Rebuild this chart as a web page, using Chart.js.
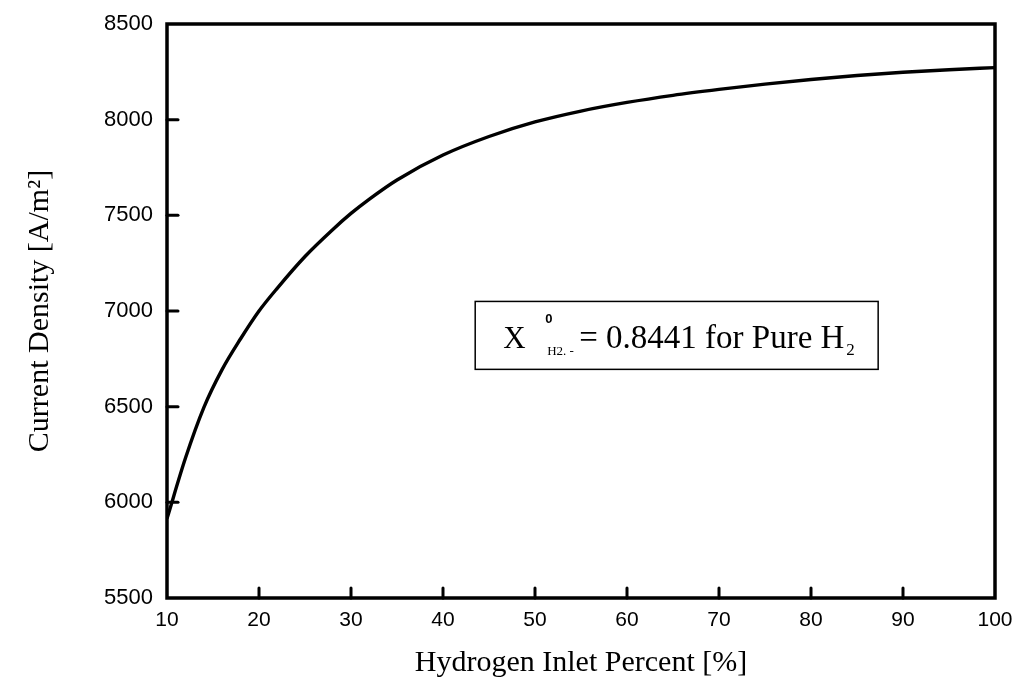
<!DOCTYPE html>
<html>
<head>
<meta charset="utf-8">
<script src="https://cdn.jsdelivr.net/npm/chart.js@4.4.1/dist/chart.umd.min.js"></script>
<style>
  html, body { margin: 0; padding: 0; background: #fff; }
  #chart { display: block; }
</style>
</head>
<body>
<canvas id="chart" width="1018" height="688"></canvas>
<script>
// values
const inletPercent = [10, 12, 14, 16, 18, 20, 22, 25, 28, 30, 32, 35, 40, 45, 50, 55, 60, 65, 70, 75, 80, 85, 90, 95, 100];
const currentDensity = [5915, 6230, 6495, 6695, 6855, 7000, 7120, 7285, 7425, 7510, 7585, 7685, 7815, 7912, 7988, 8045, 8090, 8127, 8158, 8186, 8210, 8231, 8248, 8261, 8272];
const xTicks = [10, 20, 30, 40, 50, 60, 70, 80, 90, 100];
const yTicks = [5500, 6000, 6500, 7000, 7500, 8000, 8500];

const INK = "#000";
const SERIF = "'Liberation Serif', 'Times New Roman', serif";
const SANS = "'Liberation Sans', Arial, Helvetica, sans-serif";

// frame + inward ticks, drawn from the scales
const framePlugin = {
  id: "frame",
  afterDraw(chart) {
    const { ctx, chartArea: a, scales } = chart;
    ctx.save();
    ctx.strokeStyle = INK;
    ctx.lineWidth = 3.5;
    ctx.lineCap = "square";
    ctx.strokeRect(a.left, a.top, a.right - a.left, a.bottom - a.top);

    ctx.lineWidth = 3;
    ctx.lineCap = "round";
    xTicks.slice(1, -1).forEach((v) => {
      const px = scales.x.getPixelForValue(v);
      ctx.beginPath();
      ctx.moveTo(px, a.bottom);
      ctx.lineTo(px, a.bottom - 10);
      ctx.stroke();
    });
    yTicks.slice(1, -1).forEach((v) => {
      const py = scales.y.getPixelForValue(v);
      ctx.beginPath();
      ctx.moveTo(a.left, py);
      ctx.lineTo(a.left + 11, py);
      ctx.stroke();
    });
    ctx.restore();
  },
};

// text box "X 0 H2.- = 0.8441 for Pure H2"
const notePlugin = {
  id: "note",
  afterDraw(chart) {
    const { ctx, scales } = chart;
    const x0 = scales.x.getPixelForValue(43.5);
    const x1 = scales.x.getPixelForValue(87.3);
    const y0 = scales.y.getPixelForValue(7050);
    const y1 = scales.y.getPixelForValue(6695);
    ctx.save();
    ctx.strokeStyle = INK;
    ctx.lineWidth = 1.5;
    ctx.strokeRect(x0, y0, x1 - x0, y1 - y0);

    ctx.fillStyle = INK;
    ctx.textBaseline = "alphabetic";
    const base = y0 + 47;
    ctx.font = "31px " + SERIF;
    ctx.fillText("X", x0 + 28, base);
    ctx.font = "bold 13px " + SANS;
    ctx.fillText("0", x0 + 70, base - 25);
    ctx.font = "13px " + SERIF;
    ctx.fillText("H2. -", x0 + 72, base + 7);
    ctx.font = "33px " + SERIF;
    const main = "= 0.8441 for Pure H";
    ctx.fillText(main, x0 + 104, base);
    const w = ctx.measureText(main).width;
    ctx.font = "17px " + SERIF;
    ctx.fillText("2", x0 + 104 + w + 2, base + 7);
    ctx.restore();
  },
};

new Chart(document.getElementById("chart"), {
  type: "line",
  data: {
    datasets: [
      {
        data: inletPercent.map((v, i) => ({ x: v, y: currentDensity[i] })),
        borderColor: INK,
        borderWidth: 3.4,
        pointRadius: 0,
        cubicInterpolationMode: "monotone",
        fill: false,
      },
    ],
  },
  options: {
    responsive: false,
    animation: false,
    layout: { padding: { top: 24, right: 23, left: 0, bottom: 0 } },
    plugins: {
      legend: { display: false },
      tooltip: { enabled: false },
    },
    scales: {
      x: {
        type: "linear",
        min: 10,
        max: 100,
        afterBuildTicks(scale) {
          scale.ticks = xTicks.map((v) => ({ value: v }));
        },
        afterFit(scale) {
          scale.height = 90;
        },
        grid: { display: false },
        border: { display: false },
        ticks: {
          color: INK,
          padding: 2,
          maxRotation: 0,
          callback: (v) => String(v),
          font: { family: SANS, size: 21 },
        },
        title: {
          display: true,
          text: "Hydrogen Inlet Percent [%]",
          color: INK,
          padding: { top: 0, bottom: 7 },
          font: { family: SERIF, size: 30 },
        },
      },
      y: {
        type: "linear",
        min: 5500,
        max: 8500,
        afterBuildTicks(scale) {
          scale.ticks = yTicks.map((v) => ({ value: v }));
        },
        afterFit(scale) {
          scale.width = 167;
        },
        grid: { display: false },
        border: { display: false },
        ticks: {
          color: INK,
          padding: 6,
          callback: (v) => String(v),
          font: { family: SANS, size: 22 },
        },
        title: {
          display: true,
          text: "Current Density [A/m²]",
          color: INK,
          padding: { top: 22, bottom: 0 },
          font: { family: SERIF, size: 30 },
        },
      },
    },
  },
  plugins: [framePlugin, notePlugin],
});
</script>
</body>
</html>
